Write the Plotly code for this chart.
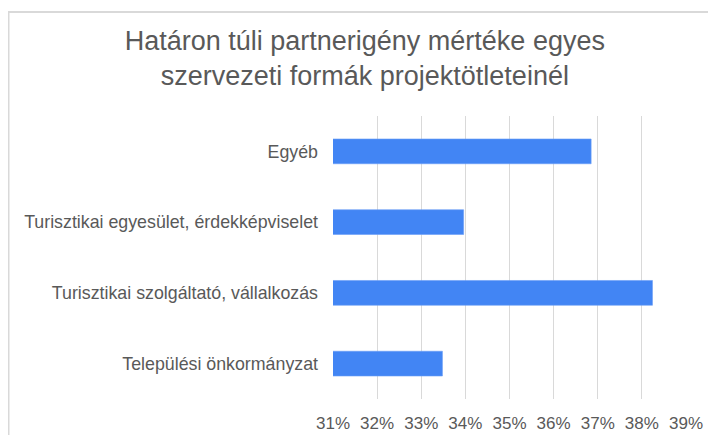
import plotly.graph_objects as go

categories = [
    "Települési önkormányzat",
    "Turisztikai szolgáltató, vállalkozás",
    "Turisztikai egyesület, érdekképviselet",
    "Egyéb",
]
values = [33.48, 38.24, 33.96, 36.85]
tick_values = [31, 32, 33, 34, 35, 36, 37, 38, 39]
tick_labels = ["31%", "32%", "33%", "34%", "35%", "36%", "37%", "38%", "39%"]
title_text = "Határon túli partnerigény mértéke egyes<br>szervezeti formák projektötleteinél"

# page body has an 8px margin, so the figure is 8px smaller than the window
W, H = 708, 427
L, R, T, B = 325, 30, 108, 36
pw = W - L - R
ph = H - T - B

fig = go.Figure(
    go.Bar(
        x=values,
        y=categories,
        orientation="h",
        marker=dict(color="#4285f4", line=dict(color="#6a9ef6", width=0.6)),
        hoverinfo="x+y",
    )
)

# outer chart frame (light gray border)
def px_to_paper_x(px):
    return (px - L) / pw

def px_to_paper_y(py):
    return (H - B - py) / ph

fig.add_shape(
    type="rect",
    xref="paper", yref="paper",
    x0=px_to_paper_x(0.5), x1=px_to_paper_x(760),
    y0=px_to_paper_y(480), y1=px_to_paper_y(4),
    line=dict(color="#d9d9d9", width=2),
    fillcolor="rgba(0,0,0,0)",
    layer="below",
)

fig.update_layout(
    width=W, height=H,
    margin=dict(l=L, r=R, t=T, b=B, pad=0, autoexpand=False),
    paper_bgcolor="white",
    plot_bgcolor="white",
    bargap=0.65,
    showlegend=False,
    font=dict(family="Liberation Sans, Arial, sans-serif", color="#595959", size=17),
    title=dict(
        text=title_text,
        x=0.504, xanchor="center", xref="container",
        y=0.902, yanchor="top", yref="container",
        automargin=False,
        font=dict(size=27, color="#595959", family="Liberation Sans, Arial, sans-serif"),
    ),
    xaxis=dict(
        range=[31, 39],
        tickvals=tick_values,
        ticktext=tick_labels,
        showgrid=True,
        gridcolor="#d9d9d9",
        gridwidth=1.3,
        zeroline=False,
        showline=False,
        ticks="",
        automargin=False,
        ticklabelstandoff=12,
        tickfont=dict(size=17, color="#595959"),
        fixedrange=True,
    ),
    yaxis=dict(
        showgrid=False,
        zeroline=False,
        showline=False,
        ticks="",
        automargin=False,
        ticklabelstandoff=14,
        tickfont=dict(size=17.8, color="#595959"),
        fixedrange=True,
    ),
)

fig.write_html("out.html")
